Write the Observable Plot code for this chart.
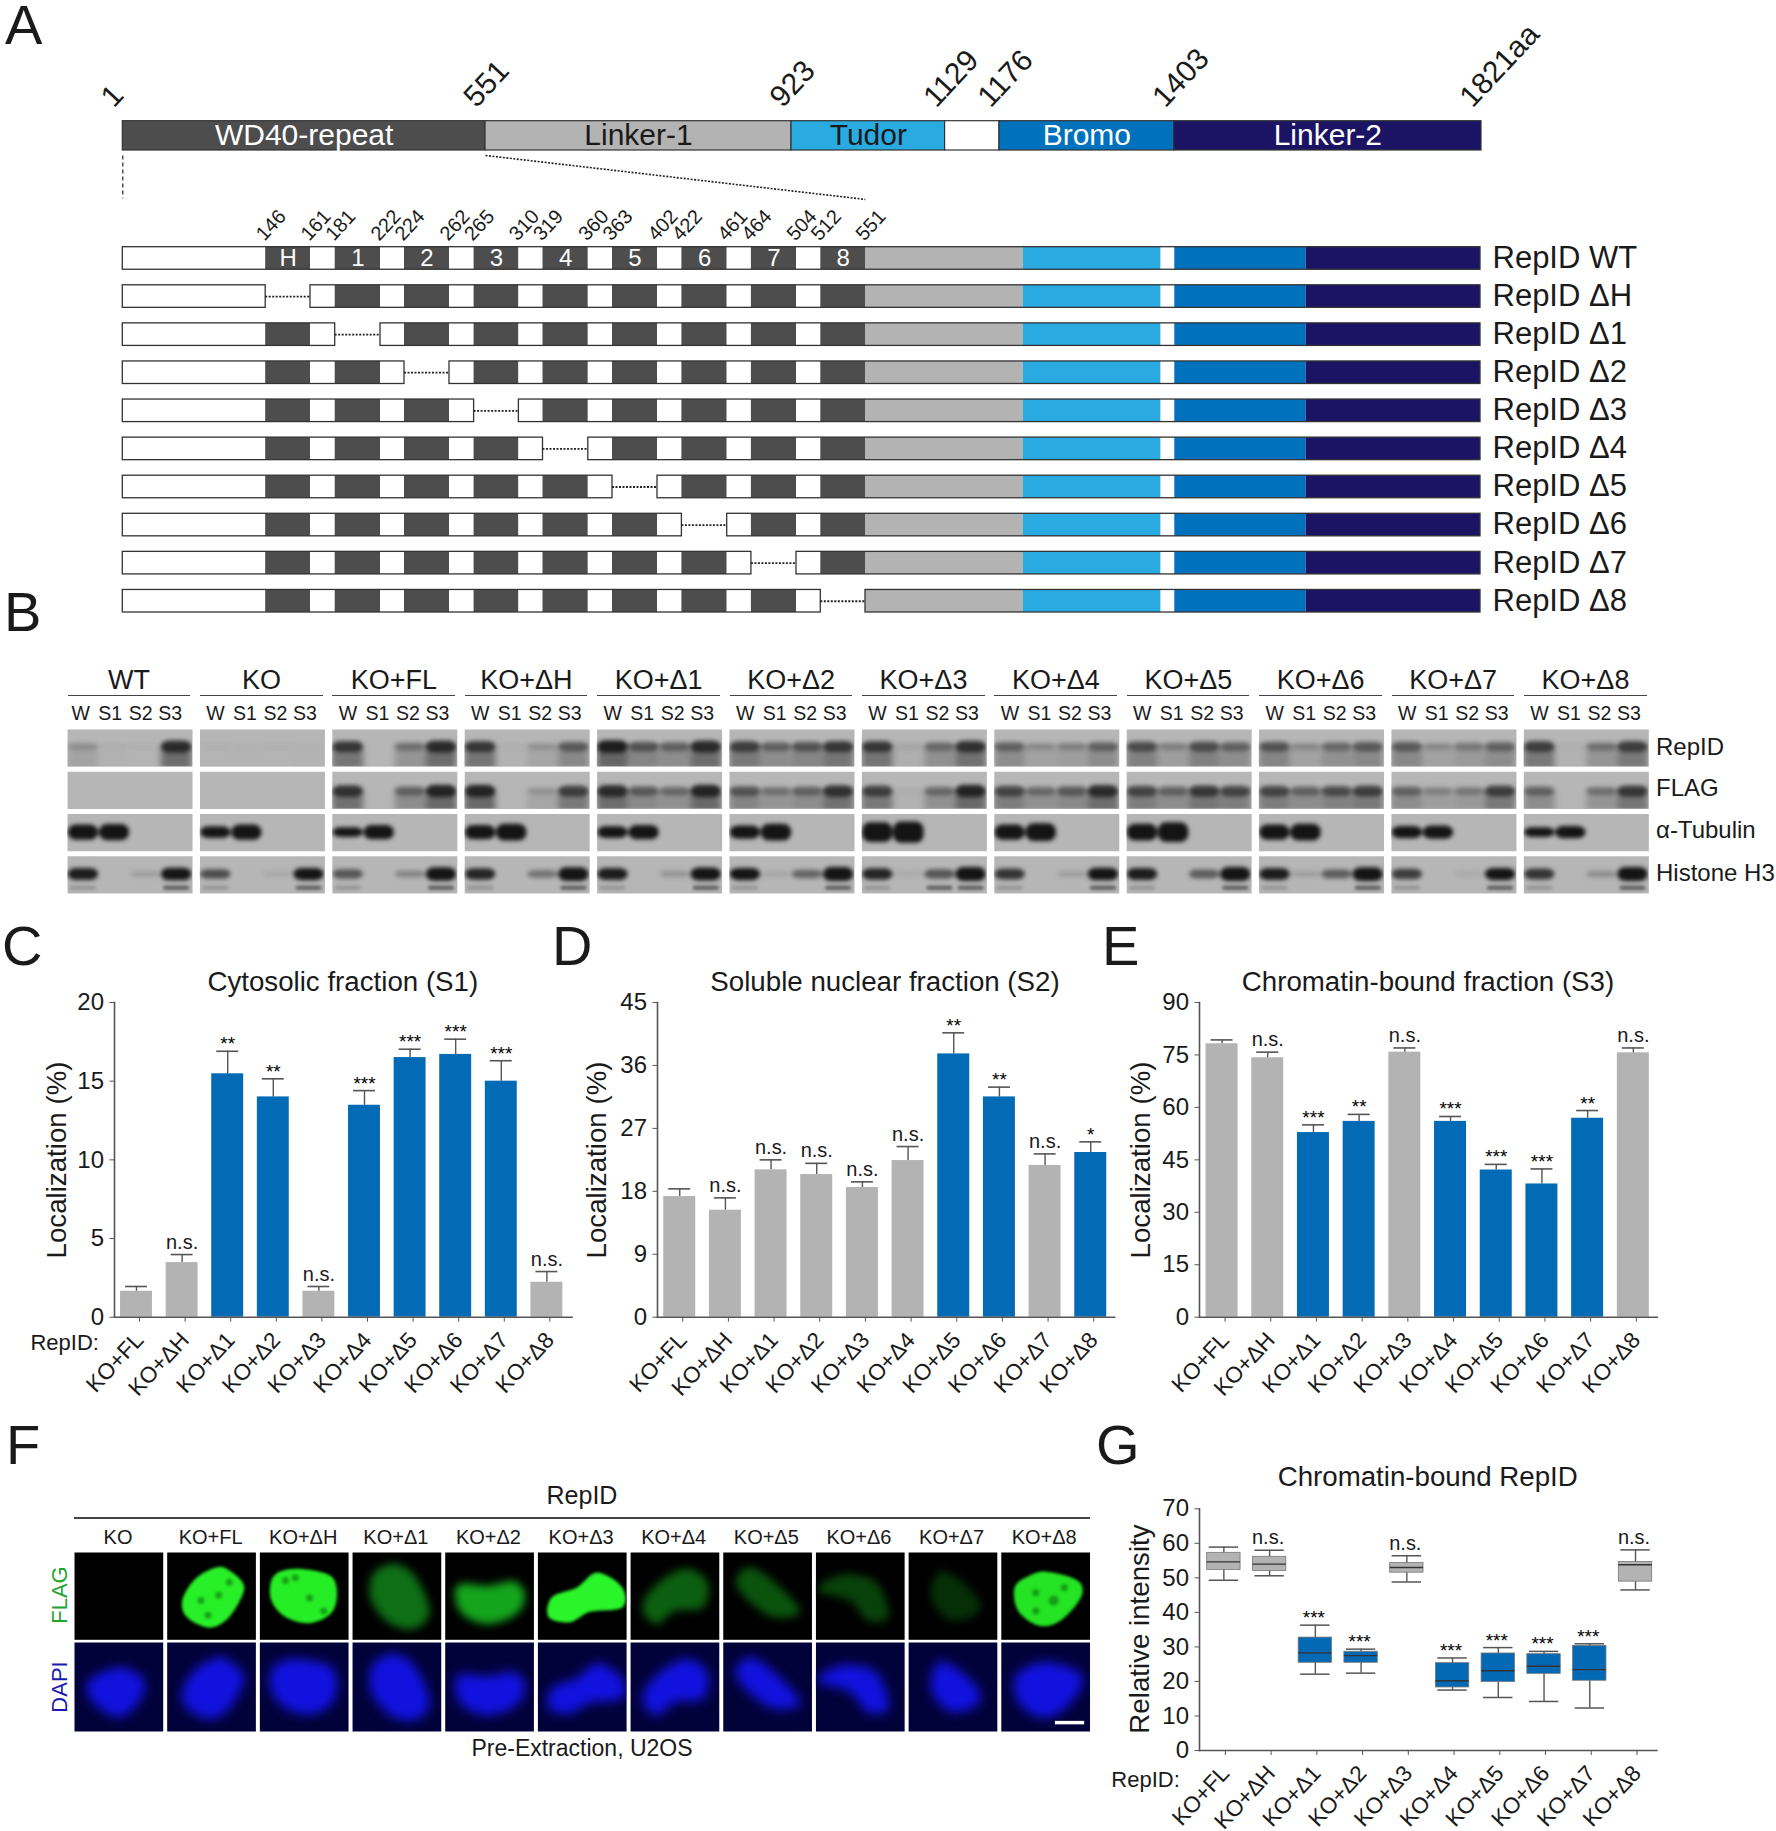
<!DOCTYPE html>
<html><head><meta charset="utf-8">
<script src="https://cdn.jsdelivr.net/npm/d3@7"></script>
<script src="https://cdn.jsdelivr.net/npm/@observablehq/plot@0.6"></script>
<style>
html,body{margin:0;padding:0;background:#fff}
#fig{position:relative;width:1776px;height:1831px;overflow:hidden;font-family:"Liberation Sans",Arial,sans-serif;color:#1a1a1a}
#fig svg{position:absolute;background:transparent;max-width:none;overflow:visible}
#fig div.t{position:absolute;white-space:nowrap;line-height:1}
#fig div.r{position:absolute;background:#444}
</style></head><body><div id="fig"></div>
<script>
// ---------- panel A data ----------
const domainBreaks=[1,551,923,1129,1176,1403,1821];
const domainNames=["WD40-repeat","Linker-1","Tudor","","Bromo","Linker-2"];
const domainFills=["#4d4d4d","#b3b3b3","#29abe2","#ffffff","#0071bc","#1b1464"];
const domainInk=["#fff","#1a1a1a","#1a1a1a","#fff","#fff","#fff"];
const topTicks=["1","551","923","1129","1176","1403","1821aa"];
const trackBreaks=[1,146,161,181,222,224,262,265,310,319,360,363,402,422,461,464,504,512,551,923,1129,1176,1403,1821];
const trackFills=["#fff","#4d4d4d","#fff","#4d4d4d","#fff","#4d4d4d","#fff","#4d4d4d","#fff","#4d4d4d","#fff","#4d4d4d","#fff","#4d4d4d","#fff","#4d4d4d","#fff","#4d4d4d","#b3b3b3","#29abe2","#fff","#0071bc","#1b1464"];
const trackNames=["","H","","1","","2","","3","","4","","5","","6","","7","","8","","","","",""];
const trackTicks=[146,161,181,222,224,262,265,310,319,360,363,402,422,461,464,504,512,551];
const rows=["RepID WT","RepID ΔH","RepID Δ1","RepID Δ2","RepID Δ3","RepID Δ4","RepID Δ5","RepID Δ6","RepID Δ7","RepID Δ8"];
const deletedSegment=[null,1,3,5,7,9,11,13,15,17];
// ---------- panel B data ----------
const blotGroups=["WT","KO","KO+FL","KO+ΔH","KO+Δ1","KO+Δ2","KO+Δ3","KO+Δ4","KO+Δ5","KO+Δ6","KO+Δ7","KO+Δ8"];
const lanes=["W","S1","S2","S3"];
const blots=["RepID","FLAG","α-Tubulin","Histone H3"];
const repidBands=[[.22,.04,.03,.9],[.03,.02,.03,.02],[.8,0,.4,.9],[.8,.04,.2,.55],[1,.6,.5,.9],[.75,.5,.6,.8],[.8,.08,.45,.85],[.5,.25,.3,.5],[.65,.3,.65,.5],[.6,.25,.45,.55],[.55,.25,.35,.5],[.75,.04,.4,.75]];
const flagBands=[[0,0,0,0],[0,0,0,0],[.85,0,.5,.95],[.95,0,.2,.75],[.9,.55,.45,.95],[.6,.4,.5,.85],[.75,.05,.45,.95],[.7,.45,.55,.9],[.7,.5,.8,.7],[.7,.5,.65,.75],[.5,.3,.35,.75],[.5,0,.4,.8]];
const tubulinBands=[[.85,.9,0,0],[.65,.85,0,0],[.55,.8,0,0],[.8,.95,0,0],[.65,.8,0,0],[.75,.95,0,0],[1.1,1.2,0,0],[.85,1,0,0],[.95,1.1,0,0],[.85,.95,0,0],[.7,.75,0,0],[.55,.7,0,0]];
const histoneBands=[[.9,0,.1,1],[.6,0,.03,.95],[.55,0,.25,1.1],[.85,0,.35,1.15],[.9,0,.15,1.05],[.95,.05,.45,1.2],[.85,.02,.55,1.2],[.75,0,.1,1],[.9,0,.5,1.2],[.9,.1,.5,1.15],[.7,0,.02,.95],[.75,0,.2,1.2]];
// ---------- panels C-G data ----------
const constructs=["KO+FL","KO+ΔH","KO+Δ1","KO+Δ2","KO+Δ3","KO+Δ4","KO+Δ5","KO+Δ6","KO+Δ7","KO+Δ8"];
const s1Means=[1.65,3.47,15.47,14,1.65,13.47,16.5,16.7,15,2.22];
const s1Errors=[1.95,3.98,16.9,15.15,1.95,14.4,17.03,17.67,16.3,2.9];
const s1Sig=["","n.s.","**","**","n.s.","***","***","***","***","n.s."];
const s2Means=[17.25,15.3,21.07,20.4,18.54,22.4,37.65,31.5,21.7,23.55];
const s2Errors=[18.35,17.06,22.5,22,19.35,24.4,40.66,32.9,23.35,25.07];
const s2Sig=["","n.s.","n.s.","n.s.","n.s.","n.s.","**","**","n.s.","*"];
const s3Means=[78.2,74.2,52.8,56,75.8,56,42.1,38.1,56.9,75.6];
const s3Errors=[79.3,75.8,55,58,77,57.4,43.7,42.4,59.1,77];
const s3Sig=["","n.s.","***","**","n.s.","***","***","***","**","n.s."];
const s1Ticks=[0,5,10,15,20], s2Ticks=[0,9,18,27,36,45], s3Ticks=[0,15,30,45,60,75,90], boxTicks=[0,10,20,30,40,50,60,70];
const boxLow=[49.3,50.6,22.1,22.4,48.8,17.5,15.35,14.2,12.3,46.5];
const boxQ1=[52.3,52,25.4,25.4,51.5,18.25,19.8,22.2,20.2,48.9];
const boxMedian=[54.65,54,28.3,27.5,53,20.2,23.1,24.4,23.4,53.8];
const boxQ3=[57.25,56.1,32.7,28.6,54.3,25.3,28.1,27.9,30.3,54.6];
const boxHigh=[58.9,58,36.3,29.35,56.4,26.8,29.8,28.7,30.9,58.1];
const boxSig=["","n.s.","***","***","n.s.","***","***","***","***","n.s."];
// ---------- panel F data: nucleus outlines read in % of each image ----------
const imageCols=["KO","KO+FL","KO+ΔH","KO+Δ1","KO+Δ2","KO+Δ3","KO+Δ4","KO+Δ5","KO+Δ6","KO+Δ7","KO+Δ8"];
const flagColors=[null,"#28f028","#26ee26","#0e6f16","#14a51c","#2af52a","#0c5f10","#0a530d","#08420a","#052f06","#24e424"];
const flagBright=["KO+FL","KO+ΔH","KO+Δ3","KO+Δ8"];
const outlineKO=[[52,28],[79,43],[71,69],[48,84],[20,66],[16,43]];
const outlineFL=[[66,18],[86,36],[82,55],[66,78],[46,86],[22,74],[17,55],[30,32],[50,19]];
const outlineH=[[48,19],[80,27],[87,48],[80,70],[56,81],[29,74],[13,55],[13,32],[25,21]];
const outline1=[[47,13],[71,28],[87,67],[71,87],[43,82],[21,55],[23,25]];
const outline2=[[17,36],[49,38],[77,33],[90,48],[81,70],[49,82],[21,72],[11,51]];
const outline3=[[67,23],[95,40],[95,63],[59,68],[36,80],[12,74],[16,51],[44,40]];
const outline4=[[58,19],[86,32],[82,63],[50,67],[30,82],[14,67],[22,44]];
const outline5=[[28,17],[52,29],[87,67],[56,74],[24,51],[14,32]];
const outline6=[[42,25],[70,36],[82,74],[58,78],[38,55],[2,44],[18,29]];
const outline7=[[37,21],[72,44],[80,67],[48,78],[25,51]];
const outline8=[[51,22],[86,32],[90,51],[67,78],[43,84],[19,67],[15,40],[31,27]];
const outlines=[null,outlineFL,outlineH,outline1,outline2,outline3,outline4,outline5,outline6,outline7,outline8];
const spotCols=["KO+FL","KO+FL","KO+FL","KO+FL","KO+ΔH","KO+ΔH","KO+ΔH","KO+ΔH","KO+Δ8","KO+Δ8","KO+Δ8","KO+Δ8"];
const spotX=[70,58,38,46,29,56,72,40,59,39,39,71];
const spotY=[34,49,55,72,32,52,67,29,55,46,67,40];
const spotR=[3.5,3.5,3.5,3.5,3.5,3.5,3.5,3.5,5,3.5,3.5,3.5];

// ---------- helpers ----------
const fig=document.getElementById("fig");
const FONT='"Liberation Sans",Arial,sans-serif';
function text(s,x,y,size,o={}){
  const d=document.createElement("div");d.className="t";d.textContent=s;
  const tx=o.anchor==="start"?"0":"-50%";
  d.style.cssText=`left:${x}px;top:${y}px;font-size:${size}px;color:${o.color||"#1a1a1a"};line-height:${o.lh||1};transform:translate(${tx},-50%) rotate(${o.rotate||0}deg);`;
  fig.appendChild(d);
}
function hr(x1,x2,y,h=1.6){const d=document.createElement("div");d.className="r";d.style.cssText=`left:${x1}px;top:${y}px;width:${x2-x1}px;height:${h}px`;fig.appendChild(d);}
function place(svg,left,top){svg.style.left=left+"px";svg.style.top=top+"px";fig.appendChild(svg);}
const base={style:{fontFamily:FONT,color:"#1a1a1a",background:"transparent"}};
[["A",5,25],["B",4,612],["C",2,946],["D",552,946],["E",1102,946],["F",6,1445],["G",1096,1445]].forEach(([l,x,y])=>text(l,x,y,56,{anchor:"start",lh:.8}));

// ---------- A: domain bar ----------
const topPx=[122.3,485,791,944.6,999,1173.7,1481];
const topPos=d3.scaleLinear(domainBreaks,topPx);
const topSegs=domainNames.map((n,i)=>({n,a:domainBreaks[i],b:domainBreaks[i+1],fill:domainFills[i],ink:domainInk[i]}));
const topTickData=domainBreaks.map((v,i)=>({v,label:topTicks[i]}));
place(Plot.plot({...base,width:1776,height:205,margin:0,
  x:{axis:null,transform:topPos,domain:[topPx[0],topPx[6]],range:[topPx[0],topPx[6]]},
  y:{axis:null,domain:[0,1],range:[150,120.7]},
  color:{type:"identity"},
  marks:[
    Plot.rect(topSegs,{x1:"a",x2:"b",y1:()=>0,y2:()=>1,fill:"fill",stroke:"#333",strokeWidth:1.2}),
    Plot.text(topSegs,{x:d=>(d.a+d.b)/2,y:()=>.5,text:"n",fill:"ink",fontSize:30}),
    Plot.text(topTickData,{x:"v",y:()=>1,text:"label",rotate:-47,textAnchor:"start",lineAnchor:"middle",dx:-16,dy:-19,fontSize:30}),
    Plot.link([{x1:1,x2:1,y1:-.17,y2:-1.63}],{x1:"x1",x2:"x2",y1:"y1",y2:"y2",stroke:"#222",strokeWidth:1.2,strokeDasharray:"4 3"}),
    Plot.link([{x1:551,x2:1022,y1:-.17,y2:-1.67}],{x1:"x1",x2:"x2",y1:"y1",y2:"y2",stroke:"#222",strokeWidth:1.6,strokeDasharray:"2 1.5"})
  ]}),0,0);

// ---------- A: deletion tracks ----------
const trackPx=[122.3,265.2,310,334.7,380,404,449,473.6,518.4,542.5,587.8,612,657,681.4,726.7,750.9,796,820.3,865,1022.9,1160.6,1174.3,1305.7,1480];
const trackPos=d3.scaleLinear(trackBreaks,trackPx);
const segs=trackFills.map((fill,i)=>({a:trackBreaks[i],b:trackBreaks[i+1],fill,name:trackNames[i],i}));
const trackBars=rows.flatMap((row,r)=>segs.filter(s=>s.i!==deletedSegment[r]).map(s=>({...s,row})));
const trackGaps=rows.flatMap((row,r)=>deletedSegment[r]==null?[]:[{...segs[deletedSegment[r]],row}]);
const blocks=rows.flatMap((row,r)=>{
  const cut=deletedSegment[r];
  return cut==null?[{row,a:1,b:1821}]:[{row,a:1,b:trackBreaks[cut]},{row,a:trackBreaks[cut+1],b:1821}];
});
place(Plot.plot({...base,width:1776,height:620,margin:0,
  x:{axis:null,transform:trackPos,domain:[trackPx[0],trackPx[23]],range:[trackPx[0],trackPx[23]]},
  y:{axis:null,domain:rows,range:[246.7,612],paddingInner:.408,paddingOuter:0,align:0,round:false},
  color:{type:"identity"},
  marks:[
    Plot.barX(trackBars,{x1:"a",x2:"b",y:"row",fill:"fill"}),
    Plot.rectX(blocks,{x1:"a",x2:"b",y:"row",fill:"none",stroke:"#333",strokeWidth:1.3}),
    Plot.ruleY(trackGaps,{y:"row",x1:"a",x2:"b",stroke:"#222",strokeWidth:1.8,strokeDasharray:"2 1.5"}),
    Plot.text(segs.filter(s=>s.name),{x:d=>(d.a+d.b)/2,y:()=>rows[0],text:"name",fill:"#fff",fontSize:24}),
    Plot.text(trackTicks,{x:d=>d,y:()=>rows[0],text:d=>String(d),rotate:-47,textAnchor:"start",lineAnchor:"middle",dx:-6,dy:-21,fontSize:20}),
    Plot.text(rows,{x:()=>1821,y:d=>d,text:d=>d,textAnchor:"start",dx:12,dy:-.5,fontSize:31})
  ]}),0,0);

// ---------- B: western blots ----------
const bandTables=[repidBands,flagBands,tubulinBands,histoneBands];
const bandCenter=[.47,.53,.5,.49];
const bandData=blots.flatMap((blot,b)=>blotGroups.flatMap((group,g)=>lanes.map((lane,l)=>({blot,group,lane,v:bandTables[b][g][l],b}))));
const half=d=>d.b===2?.24*d.v:.07+.1*d.v;
const ops=d=>d.v===0?0:d.b===2?1:Math.min(1,d.v*(d.b===3?1:.92)+(d.b===3?.05:0));
const blotPlot=Plot.plot({...base,width:1581.4,height:164,margin:0,marginTop:0,marginBottom:0,marginLeft:0,marginRight:0,
  fx:{axis:null,domain:blotGroups,paddingInner:.056,paddingOuter:0,round:false},
  fy:{axis:null,domain:blots,paddingInner:.12,paddingOuter:0,round:false},
  x:{axis:null,domain:lanes,padding:.02,round:false},
  y:{axis:null,domain:[0,1],reverse:true},
  opacity:{domain:[0,1],range:[0,1]},
  marks:[
    Plot.frame({fill:"#b6b6b6",stroke:"none"}),
    Plot.barY(bandData.filter(d=>d.b<2),{fx:"group",fy:"blot",x:"lane",y1:d=>bandCenter[d.b],y2:()=>1.1,fill:"#222",fillOpacity:d=>.55*d.v,imageFilter:"blur(3px)",clip:"frame"}),
    Plot.barY(bandData,{fx:"group",fy:"blot",x:"lane",y1:d=>bandCenter[d.b]-half(d),y2:d=>bandCenter[d.b]+half(d),fill:"#141414",fillOpacity:ops,rx:8,imageFilter:"blur(2px)",clip:"frame"}),
    Plot.barY(bandData.filter(d=>d.b===3&&d.v>.5),{fx:"group",fy:"blot",x:"lane",y1:()=>.8,y2:()=>.92,fill:"#222",fillOpacity:d=>d.lane==="W"?.2:.55,rx:4,insetLeft:2,insetRight:2,imageFilter:"blur(1.5px)",clip:"frame"})
  ]});
place(blotPlot,66.6,729);
blotGroups.forEach((g,i)=>{
  const x0=66.6+132.4*i;
  text(g,x0+62.5,680,27);
  hr(x0+1,x0+123.5,694.5);
  [16.5,46,76.5,106].forEach((dx,j)=>text(lanes[j],x0+dx-(i===0?2.5:0),714,19.5));
});
blots.forEach((b,i)=>text(b,1656,[747,788,830,873][i],24,{anchor:"start"}));

// ---------- C, D, E: bar charts ----------
function barChart({title,titleX,axisX,right,band,domain,ticks,means,errors,sig,ylabelX,ylabel="Localization (%)"}){
  const L=axisX-80,T=990,yTop=1002,yBot=1316.7,B=1420;
  const data=constructs.map((c,i)=>({c,m:means[i],e:errors[i],s:sig[i]}));
  const blue=d=>d.s!==""&&d.s!=="n.s.";
  place(Plot.plot({...base,width:right-L+20,height:B-T,marginLeft:80,marginRight:20,marginTop:yTop-T,marginBottom:B-yBot,
    x:{domain:constructs,range:[band[0]-L,band[1]-L],paddingInner:.3,paddingOuter:.15,label:null,round:false},
    y:{domain,label:null,ticks},
    color:{type:"identity"},
    marks:[
      Plot.barY(data,{x:"c",y1:()=>0,y2:"m",fill:d=>blue(d)?"#036ab5":"#b3b3b3"}),
      Plot.ruleX(data,{x:"c",y1:"m",y2:"e",stroke:"#555",strokeWidth:1.4}),
      Plot.tickY(data,{x:"c",y:"e",stroke:"#555",strokeWidth:1.6,insetLeft:5,insetRight:5}),
      Plot.text(data.filter(d=>d.s==="n.s."),{x:"c",y:"e",text:"s",lineAnchor:"bottom",dy:-6,fontSize:20}),
      Plot.text(data.filter(blue),{x:"c",y:"e",text:"s",lineAnchor:"bottom",dy:-1,fontSize:19,fill:"#000"}),
      Plot.axisY({ticks,label:null,fontSize:24,tickSize:4.5,tickPadding:6,stroke:"#555"}),
      Plot.axisX({label:null,fontSize:22.5,tickSize:5,tickRotate:-47,tickPadding:14,dx:3,stroke:"#555"}),
      Plot.frame({anchor:"left",stroke:"#555",strokeWidth:1.6}),
      Plot.frame({anchor:"bottom",stroke:"#555",strokeWidth:1.6})
    ]}),L,T);
  text(title,titleX,981.7,27.7);
  text(ylabel,ylabelX,1160,27.7,{rotate:-90});
}
barChart({title:"Cytosolic fraction (S1)",titleX:342.8,axisX:114,right:571.6,band:[113.2,569.2],domain:[0,20],ticks:s1Ticks,means:s1Means,errors:s1Errors,sig:s1Sig,ylabelX:57});
barChart({title:"Soluble nuclear fraction (S2)",titleX:885,axisX:656.8,right:1114,band:[656.2,1112.9],domain:[0,45],ticks:s2Ticks,means:s2Means,errors:s2Errors,sig:s2Sig,ylabelX:597});
barChart({title:"Chromatin-bound fraction (S3)",titleX:1428,axisX:1199.3,right:1657,band:[1199,1656],domain:[0,90],ticks:s3Ticks,means:s3Means,errors:s3Errors,sig:s3Sig,ylabelX:1141.4});
text("RepID:",64.7,1343,22);

// ---------- F: microscopy ----------
const flagShapes=outlines.flatMap((o,i)=>o==null?[]:o.map(([x,y])=>({c:imageCols[i],x,y,fill:flagColors[i]})));
const dapiShapes=outlines.flatMap((o,i)=>(o==null?outlineKO:o).map(([x,y])=>({c:imageCols[i],x,y})));
const spots=spotCols.map((c,i)=>({c,x:spotX[i],y:spotY[i],r:spotR[i]}));
const imgScale={fx:{axis:null,domain:imageCols,paddingInner:.043,paddingOuter:0,round:false},x:{axis:null,domain:[0,100]},y:{axis:null,domain:[0,100],reverse:true},color:{type:"identity"}};
const flagLine={x:"x",y:"y",z:"c",fx:"c",fill:"fill",stroke:"none",curve:"cardinal-closed",clip:"frame"};
place(Plot.plot({...base,...imgScale,width:1015.5,height:87.3,margin:0,marginTop:0,marginBottom:0,marginLeft:0,marginRight:0,r:{type:"identity"},marks:[
  Plot.frame({fill:"#000",stroke:"none"}),
  Plot.dot(imageCols,{fx:d=>d,x:()=>50,y:()=>50,r:0}),
  Plot.line(flagShapes.filter(d=>!flagBright.includes(d.c)),{...flagLine,imageFilter:"blur(4px)"}),
  Plot.line(flagShapes.filter(d=>flagBright.includes(d.c)),{...flagLine,imageFilter:"blur(1.6px)"}),
  Plot.dot(spots,{x:"x",y:"y",fx:"c",r:"r",fill:"#0c6a0c",fillOpacity:.6,imageFilter:"blur(1.8px)"})
]}),73.7,1551.7);
place(Plot.plot({...base,...imgScale,width:1015.5,height:89,margin:0,marginTop:0,marginBottom:0,marginLeft:0,marginRight:0,marks:[
  Plot.frame({fill:"#02023a",stroke:"none"}),
  Plot.line(dapiShapes,{x:"x",y:"y",z:"c",fx:"c",fill:"#1212e0",stroke:"none",curve:"cardinal-closed",imageFilter:"blur(5.5px)",clip:"frame"}),
  Plot.ruleY([{c:"KO+Δ8",y:90,a:61,b:94}],{fx:"c",y:"y",x1:"a",x2:"b",stroke:"#fff",strokeWidth:3.5})
]}),73.7,1641.7);
text("RepID",582,1495,25);
hr(73.7,1090,1517,1.8);
imageCols.forEach((c,i)=>text(c,73.7+44.3+92.62*i,1537,20));
text("Pre-Extraction, U2OS",582,1748,23);
text("FLAG",59.6,1595,22,{rotate:-90,color:"#1ea52e"});
text("DAPI",59.6,1687,22,{rotate:-90,color:"#1a1ab0"});

// ---------- G: box plot ----------
(function(){
  const L=1119,T=1500,yTop=1508.3,yBot=1750,B=1831,right=1656.4;
  const data=constructs.map((c,i)=>({c,lo:boxLow[i],q1:boxQ1[i],med:boxMedian[i],q3:boxQ3[i],hi:boxHigh[i],s:boxSig[i]}));
  const blue=d=>d.s==="***";
  const fillOf=d=>(d.s==="***")?"#0369b4":"#b3b3b3";
  place(Plot.plot({...base,width:right-L+20,height:B-T,marginLeft:80,marginRight:20,marginTop:yTop-T,marginBottom:B-yBot,
    x:{domain:constructs,paddingInner:.27,paddingOuter:.135,label:null,round:false},
    y:{domain:[0,70],label:null,ticks:boxTicks},
    color:{type:"identity"},
    marks:[
      Plot.ruleX(data,{x:"c",y1:"lo",y2:"hi",stroke:"#555",strokeWidth:1.4,dx:1.5}),
      Plot.tickY(data,{x:"c",y:"lo",stroke:"#555",strokeWidth:1.5,insetLeft:2,insetRight:2,dx:1.5}),
      Plot.tickY(data,{x:"c",y:"hi",stroke:"#555",strokeWidth:1.5,insetLeft:2,insetRight:2,dx:1.5}),
      Plot.barY(data,{x:"c",y1:"q1",y2:"q3",fill:fillOf,stroke:"#777",strokeWidth:.8,dx:1.5}),
      Plot.tickY(data,{x:"c",y:"med",stroke:"#333",strokeWidth:1.3,dx:1.5}),
      Plot.text(data.filter(d=>d.s==="n.s."),{x:"c",y:"hi",text:"s",lineAnchor:"bottom",dy:-6,fontSize:20}),
      Plot.text(data.filter(blue),{x:"c",y:"hi",text:"s",lineAnchor:"bottom",dy:-1,fontSize:19,fill:"#000"}),
      Plot.axisY({ticks:boxTicks,label:null,fontSize:24,tickSize:4.5,tickPadding:6,stroke:"#555"}),
      Plot.axisX({label:null,fontSize:22.5,tickSize:5,tickRotate:-47,tickPadding:14,dx:3,stroke:"#555"}),
      Plot.frame({anchor:"left",stroke:"#555",strokeWidth:1.6}),
      Plot.frame({anchor:"bottom",stroke:"#555",strokeWidth:1.6})
    ]}),L,T);
  text("Chromatin-bound RepID",1427.7,1476.7,27.7);
  text("Relative intensity",1139.7,1629,27.7,{rotate:-90});
  text("RepID:",1145.6,1780,22);
})();
</script></body></html>
